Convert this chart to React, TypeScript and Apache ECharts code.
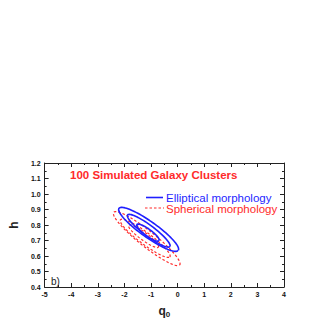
import React, { useEffect, useRef } from "react";
import * as echarts from "echarts";

// Confidence contours, each: [centerQ0, centerH, majorDq, majorDh, minorDq, minorDh]
const ellipticalContours: number[][] = [
  [-1.09, 0.772, 1.115, -0.136, 0.174, 0.041],
  [-1.085, 0.763, 0.795, -0.102, 0.12, 0.028],
  [-1.115, 0.751, 0.415, -0.052, 0.076, 0.018],
];
const sphericalContours: number[][] = [
  [-1.16, 0.712, 1.24, -0.17, 0.188, 0.039],
  [-1.22, 0.714, 0.93, -0.12, 0.141, 0.029],
  [-1.28, 0.728, 0.56, -0.071, 0.094, 0.019],
];
const xTicks = [-5, -4, -3, -2, -1, 0, 1, 2, 3, 4];
const yTicks = [0.4, 0.5, 0.6, 0.7, 0.8, 0.9, 1.0, 1.1, 1.2];

const titleText = "100 Simulated Galaxy Clusters";
const legendNames = ["Elliptical morphology", "Spherical morphology"];

function outline(p: number[]): number[][] {
  const pts: number[][] = [];
  const n = 96;
  for (let i = 0; i <= n; i++) {
    const t = (i / n) * Math.PI * 2;
    pts.push([
      p[0] + p[2] * Math.cos(t) + p[4] * Math.sin(t),
      p[1] + p[3] * Math.cos(t) + p[5] * Math.sin(t),
    ]);
  }
  return pts;
}

const BLUE = "#1f1fff";
const RED = "#ff2a2a";

export default function App() {
  const ref = useRef<HTMLDivElement>(null);
  useEffect(() => {
    if (!ref.current) return;
    const chart = echarts.init(ref.current, null, { renderer: "svg" });
    const font = "Liberation Sans, Arial, sans-serif";
    const axisCommon = {
      type: "value" as const,
      axisLine: { show: true, onZero: false, lineStyle: { color: "#222", width: 1 } },
      axisTick: { show: true, inside: true, length: 4, lineStyle: { color: "#222" } },
      minorTick: { show: true, splitNumber: 2, length: 2, lineStyle: { color: "#222" } },
      splitLine: { show: false },
    };
    const series: any[] = [];
    ellipticalContours.forEach((c) =>
      series.push({
        name: legendNames[0],
        type: "line",
        data: outline(c),
        showSymbol: false,
        symbol: "none",
        lineStyle: { color: BLUE, width: 1.6 },
        itemStyle: { color: BLUE },
        xAxisIndex: 0,
        yAxisIndex: 0,
        z: 3,
      })
    );
    sphericalContours.forEach((c) =>
      series.push({
        name: legendNames[1],
        type: "line",
        data: outline(c),
        showSymbol: false,
        symbol: "none",
        lineStyle: { color: RED, width: 1.2, type: [2.5, 2] },
        itemStyle: { color: RED },
        xAxisIndex: 0,
        yAxisIndex: 0,
        z: 2,
      })
    );
    chart.setOption({
      animation: false,
      grid: { left: 42, right: 35, top: 163, bottom: 28 },
      title: {
        text: titleText,
        left: 70,
        top: 169,
        padding: 0,
        textStyle: { color: RED, fontSize: 11.5, fontWeight: "bold", fontFamily: font },
      },
      xAxis: [
        {
          ...axisCommon,
          min: -5,
          max: 4,
          interval: 1,
          position: "bottom",
          axisLabel: {
            fontSize: 7,
            fontWeight: "bold",
            color: "#111",
            margin: 4,
            fontFamily: font,
            formatter: (v: number) => (xTicks.includes(v) ? String(v) : ""),
          },
          name: "{q|q}{s|0}",
          nameLocation: "middle",
          nameGap: 17,
          nameTextStyle: {
            rich: {
              q: { fontSize: 12, fontWeight: "bold", color: "#222", fontFamily: font },
              s: { fontSize: 8, fontWeight: "bold", color: "#222", fontFamily: font, padding: [6, 0, 0, 0] },
            },
          },
        },
        {
          ...axisCommon,
          min: -5,
          max: 4,
          interval: 1,
          position: "top",
          axisLabel: { show: false },
        },
      ],
      yAxis: [
        {
          ...axisCommon,
          min: 0.4,
          max: 1.2,
          interval: 0.1,
          position: "left",
          axisLabel: {
            fontSize: 7,
            fontWeight: "bold",
            color: "#111",
            margin: 4,
            fontFamily: font,
            formatter: (v: number) => {
              const r = Math.round(v * 10) / 10;
              return yTicks.some((t) => Math.abs(t - r) < 1e-6) ? r.toFixed(1) : "";
            },
          },
          name: "h",
          nameLocation: "middle",
          nameGap: 20,
          nameRotate: 90,
          nameTextStyle: { fontSize: 12, fontWeight: "bold", color: "#222", fontFamily: font },
        },
        {
          ...axisCommon,
          min: 0.4,
          max: 1.2,
          interval: 0.1,
          position: "right",
          axisLabel: { show: false },
        },
      ],
      graphic: [
        {
          type: "text",
          left: 51,
          top: 276,
          style: { text: "b)", fontSize: 10, fill: "#222", fontFamily: font },
        },
        {
          type: "line",
          shape: { x1: 146, y1: 197.5, x2: 163, y2: 197.5 },
          style: { stroke: BLUE, lineWidth: 1.6 },
        },
        {
          type: "text",
          x: 166,
          y: 198,
          style: {
            text: legendNames[0],
            fontSize: 11.5,
            fill: BLUE,
            fontFamily: font,
            verticalAlign: "middle",
          },
        },
        {
          type: "line",
          shape: { x1: 145, y1: 208, x2: 164, y2: 208 },
          style: { stroke: RED, lineWidth: 1.2, lineDash: [2.5, 2] },
        },
        {
          type: "text",
          x: 166,
          y: 208.5,
          style: {
            text: legendNames[1],
            fontSize: 11.5,
            fill: RED,
            fontFamily: font,
            verticalAlign: "middle",
          },
        },
      ],
      series,
    });
    return () => chart.dispose();
  }, []);
  return (
    <div
      ref={ref}
      style={{ position: "fixed", left: 0, top: 0, width: 319, height: 319, background: "#fff" }}
    />
  );
}
